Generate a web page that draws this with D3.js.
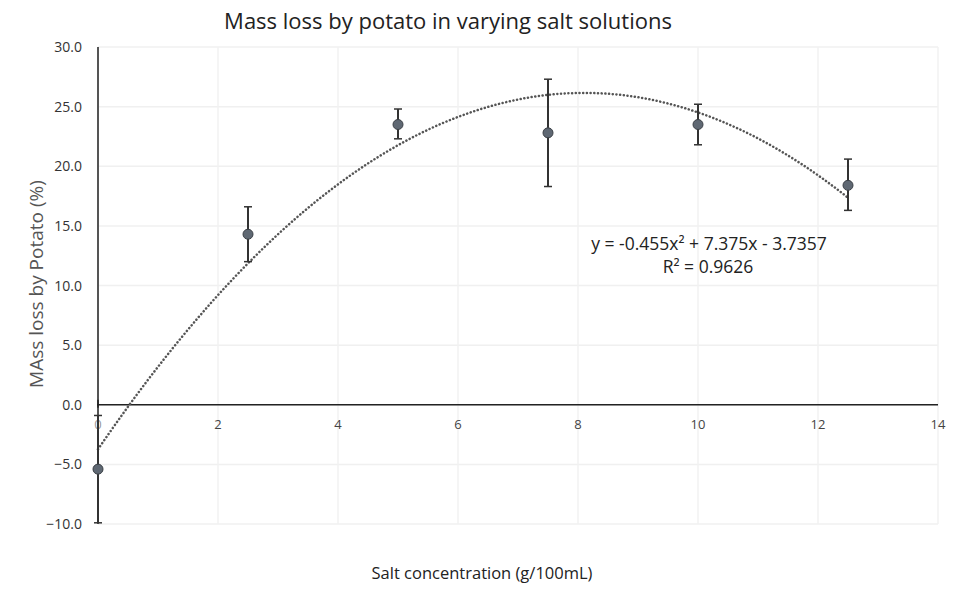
<!DOCTYPE html>
<html>
<head>
<meta charset="utf-8">
<script src="https://cdn.jsdelivr.net/npm/d3@7"></script>
<style>
  body { margin: 0; background: #fff; }
  text { font-family: "Open Sans", sans-serif; }
</style>
</head>
<body>
<svg id="chart" width="955" height="589"></svg>
<script>
// data
var concentration = [0, 2.5, 5, 7.5, 10, 12.5];
var massLoss = [-5.4, 14.3, 23.5, 22.8, 23.5, 18.4];
var errUp = [4.5, 2.3, 1.3, 4.5, 1.7, 2.2];
var errDown = [4.5, 2.3, 1.2, 4.5, 1.7, 2.1];

// polynomial trendline coefficients as labelled on the chart
var trendCoef = [-0.455, 7.375, -3.7357];
var trendLabel = "y = -0.455x² + 7.375x - 3.7357";
var r2Label = "R² = 0.9626";

var xTicks = [0, 2, 4, 6, 8, 10, 12, 14];
var yTicks = [-10, -5, 0, 5, 10, 15, 20, 25, 30];

var svg = d3.select("#chart");

var x = d3.scaleLinear().domain([0, 14]).range([98, 938]);
var y = d3.scaleLinear().domain([-10, 30]).range([524, 47]);

// faint gridlines
svg.append("g")
  .selectAll("line")
  .data(yTicks)
  .enter().append("line")
  .attr("x1", x(0)).attr("x2", x(14))
  .attr("y1", function(d) { return y(d); })
  .attr("y2", function(d) { return y(d); })
  .attr("stroke", "#f0f0f0").attr("stroke-width", 1.5);

svg.append("g")
  .selectAll("line")
  .data(xTicks.slice(1))
  .enter().append("line")
  .attr("y1", y(-10)).attr("y2", y(30))
  .attr("x1", function(d) { return x(d); })
  .attr("x2", function(d) { return x(d); })
  .attr("stroke", "#f2f2f2").attr("stroke-width", 1.5);

// y axis labels
svg.append("g")
  .selectAll("text")
  .data(yTicks)
  .enter().append("text")
  .attr("x", 82)
  .attr("y", function(d) { return y(d) + 5; })
  .attr("text-anchor", "end")
  .attr("font-size", 14)
  .attr("fill", "#333")
  .text(function(d) { return d3.format(".1f")(d); });

// x axis labels
svg.append("g")
  .selectAll("text")
  .data(xTicks)
  .enter().append("text")
  .attr("x", function(d) { return x(d); })
  .attr("y", 429)
  .attr("text-anchor", "middle")
  .attr("font-size", 13)
  .attr("fill", function(d) { return d == 0 ? "#999" : "#444"; })
  .text(function(d) { return d; });

// y axis line
svg.append("line")
  .attr("x1", x(0)).attr("x2", x(0))
  .attr("y1", y(30)).attr("y2", y(-10))
  .attr("stroke", "#555").attr("stroke-width", 2);

// x axis line at zero
svg.append("line")
  .attr("x1", x(0) - 1).attr("x2", x(14))
  .attr("y1", y(0)).attr("y2", y(0))
  .attr("stroke", "#222").attr("stroke-width", 1.5);

svg.append("line")
  .attr("x1", x(0)).attr("x2", x(0))
  .attr("y1", y(0) - 5).attr("y2", y(0) + 3)
  .attr("stroke", "#222").attr("stroke-width", 1.5);

// trendline
var trendX = d3.range(0, 12.5001, 0.1);
var trend = d3.line()
  .x(function(d) { return x(d); })
  .y(function(d) { return y(trendCoef[0] * d * d + trendCoef[1] * d + trendCoef[2]); })
  .curve(d3.curveMonotoneX);

svg.append("path")
  .attr("d", trend(trendX))
  .attr("fill", "none")
  .attr("stroke", "#555")
  .attr("stroke-width", 2.5)
  .attr("stroke-linecap", "round")
  .attr("stroke-dasharray", "0.1,3.6");

// error bars
var pts = concentration.map(function(c, i) {
  return { x: c, y: massLoss[i], up: errUp[i], down: errDown[i] };
});

var eb = svg.append("g").selectAll("g").data(pts).enter().append("g");
eb.append("line")
  .attr("x1", function(d) { return x(d.x); })
  .attr("x2", function(d) { return x(d.x); })
  .attr("y1", function(d) { return y(d.y + d.up); })
  .attr("y2", function(d) { return y(d.y - d.down); })
  .attr("stroke", "#333").attr("stroke-width", 2);
eb.append("line")
  .attr("x1", function(d) { return x(d.x) - 4; })
  .attr("x2", function(d) { return x(d.x) + 4; })
  .attr("y1", function(d) { return y(d.y + d.up); })
  .attr("y2", function(d) { return y(d.y + d.up); })
  .attr("stroke", "#333").attr("stroke-width", 1.5);
eb.append("line")
  .attr("x1", function(d) { return x(d.x) - 4; })
  .attr("x2", function(d) { return x(d.x) + 4; })
  .attr("y1", function(d) { return y(d.y - d.down); })
  .attr("y2", function(d) { return y(d.y - d.down); })
  .attr("stroke", "#333").attr("stroke-width", 1.5);

// points
svg.append("g")
  .selectAll("circle")
  .data(pts)
  .enter().append("circle")
  .attr("cx", function(d) { return x(d.x); })
  .attr("cy", function(d) { return y(d.y); })
  .attr("r", 5)
  .attr("fill", "#5f6873")
  .attr("stroke", "#3a3f45")
  .attr("stroke-width", 1);

// trendline label
svg.append("text")
  .attr("x", 709).attr("y", 250)
  .attr("text-anchor", "middle")
  .attr("font-size", 17.5)
  .attr("fill", "#222")
  .text(trendLabel);
svg.append("text")
  .attr("x", 708).attr("y", 273)
  .attr("text-anchor", "middle")
  .attr("font-size", 17.5)
  .attr("fill", "#222")
  .text(r2Label);

// titles
svg.append("text")
  .attr("x", 448).attr("y", 29)
  .attr("text-anchor", "middle")
  .attr("font-size", 22)
  .attr("fill", "#222")
  .text("Mass loss by potato in varying salt solutions");

svg.append("text")
  .attr("transform", "translate(43,284) rotate(-90)")
  .attr("text-anchor", "middle")
  .attr("font-size", 19)
  .attr("fill", "#555")
  .text("MAss loss by Potato (%)");

svg.append("text")
  .attr("x", 482).attr("y", 579)
  .attr("text-anchor", "middle")
  .attr("font-size", 16.5)
  .attr("fill", "#222")
  .text("Salt concentration (g/100mL)");
</script>
</body>
</html>
